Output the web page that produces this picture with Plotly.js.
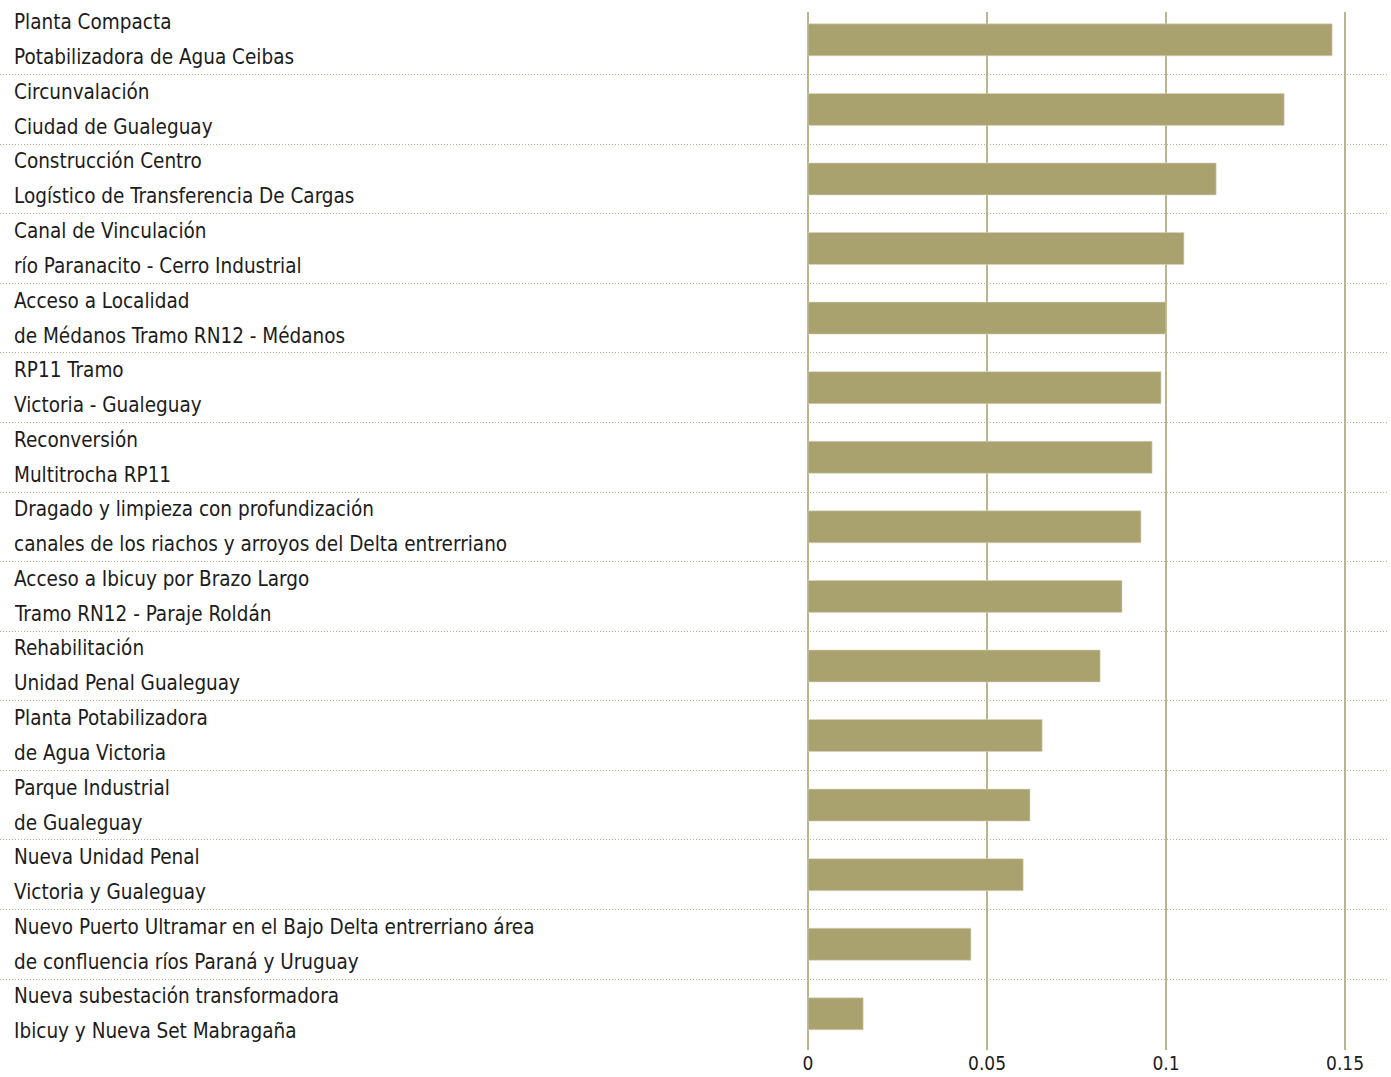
<!DOCTYPE html>
<html>
<head>
<meta charset="utf-8">
<script src="https://cdn.plot.ly/plotly-3.0.1.min.js"></script>
<style>
  html, body { margin: 0; padding: 0; background: #ffffff; }
  #chart { width: 1391px; height: 1077px; }
</style>
</head>
<body>
<div id="chart"></div>
<script>
// ---- data ----
const labelLine1 = [
  "Planta Compacta",
  "Circunvalación",
  "Construcción Centro",
  "Canal de Vinculación",
  "Acceso a Localidad",
  "RP11 Tramo",
  "Reconversión",
  "Dragado y limpieza con profundización",
  "Acceso a Ibicuy por Brazo Largo",
  "Rehabilitación",
  "Planta Potabilizadora",
  "Parque Industrial",
  "Nueva Unidad Penal",
  "Nuevo Puerto Ultramar en el Bajo Delta entrerriano área",
  "Nueva subestación transformadora"
];
const labelLine2 = [
  "Potabilizadora de Agua Ceibas",
  "Ciudad de Gualeguay",
  "Logístico de Transferencia De Cargas",
  "río Paranacito - Cerro Industrial",
  "de Médanos Tramo RN12 - Médanos",
  "Victoria - Gualeguay",
  "Multitrocha RP11",
  "canales de los riachos y arroyos del Delta entrerriano",
  "Tramo RN12 - Paraje Roldán",
  "Unidad Penal Gualeguay",
  "de Agua Victoria",
  "de Gualeguay",
  "Victoria y Gualeguay",
  "de confluencia ríos Paraná y Uruguay",
  "Ibicuy y Nueva Set Mabragaña"
];
const values = [0.1464, 0.1330, 0.1140, 0.1050, 0.1000, 0.0986, 0.0961, 0.0930,
                0.0877, 0.0816, 0.0654, 0.0620, 0.0601, 0.0455, 0.0154];
const tickValues = [0, 0.05, 0.1, 0.15];
const tickLabels = ["0", "0.05", "0.1", "0.15"];

// ---- build ----
const categories = labelLine1.map((l, i) => l + " " + labelLine2[i]);
const FONT = "'DejaVu Sans Condensed', 'Liberation Sans Narrow', sans-serif";
const TXT = "#1c1c1c";
const GOLD = "#a9a26f";

const trace = {
  type: "bar",
  orientation: "h",
  x: values,
  y: categories,
  width: 0.46,
  marker: { color: GOLD, line: { color: "#d9d5bd", width: 0.6 } },
  hoverinfo: "skip"
};

const annotations = [];
categories.forEach((c, i) => {
  annotations.push({
    xref: "paper", yref: "y", x: 0, y: c, xanchor: "left", yanchor: "middle",
    xshift: 12, yshift: 17.5, showarrow: false, text: labelLine1[i],
    font: { family: FONT, size: 20.5, color: TXT }
  });
  annotations.push({
    xref: "paper", yref: "y", x: 0, y: c, xanchor: "left", yanchor: "middle",
    xshift: 12, yshift: -17.5, showarrow: false, text: labelLine2[i],
    font: { family: FONT, size: 20.5, color: TXT }
  });
});

const layout = {
  width: 1391,
  height: 1077,
  margin: { l: 0, r: 3, t: 12, b: 27 },
  paper_bgcolor: "#ffffff",
  plot_bgcolor: "#ffffff",
  showlegend: false,
  bargap: 0.54,
  xaxis: {
    range: [-0.2257, 0.1620],
    tickmode: "array",
    tickvals: tickValues,
    ticktext: tickLabels,
    showgrid: true,
    gridcolor: "#bcb48f",
    gridwidth: 1.6,
    zeroline: false,
    showline: false,
    ticks: "",
    tickfont: { family: FONT, size: 19, color: TXT },
    fixedrange: true
  },
  yaxis: {
    type: "category",
    categoryorder: "array",
    categoryarray: categories,
    range: [14.52, -0.40],
    tickson: "boundaries",
    showticklabels: false,
    ticks: "",
    showgrid: true,
    gridcolor: "#b9b28c",
    gridwidth: 1,
    griddash: "1px,2px",
    zeroline: false,
    showline: false,
    fixedrange: true
  },
  annotations: annotations
};

Plotly.newPlot("chart", [trace], layout, { displayModeBar: false, staticPlot: true });
</script>
</body>
</html>
